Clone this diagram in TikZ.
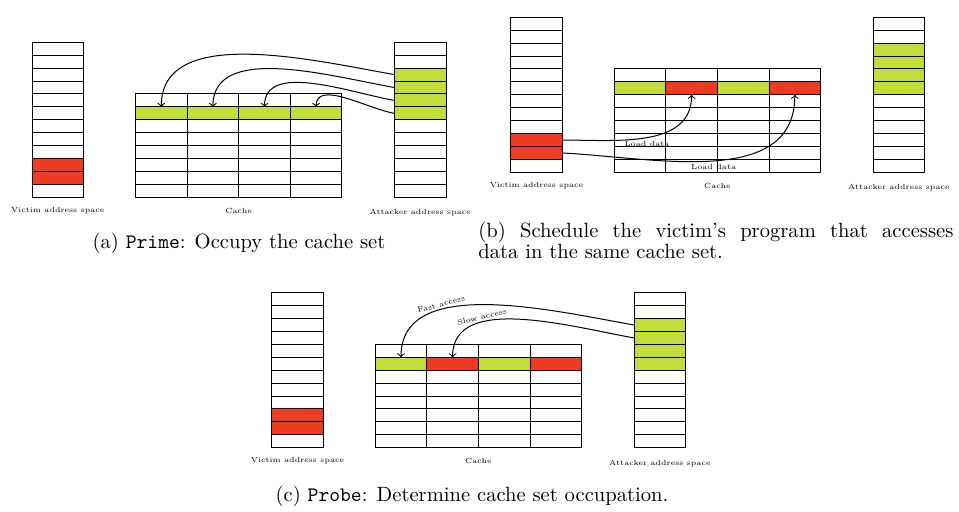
\documentclass[tikz,border=0pt]{standalone}
\usepackage{tikz}
\usetikzlibrary{positioning}
\usetikzlibrary{calc}
\usetikzlibrary{arrows}
\definecolor{green}{RGB}{192,221,58}
\definecolor{red}{RGB}{238,60,35}

\tikzset{
  cell/.style={draw, fill=white, line width=0.5pt, inner sep=0pt, outer sep=0pt,
               minimum width=25.8pt, minimum height=6.46pt},
  lbl/.style={font=\fontsize{3.7}{4.5}\selectfont, inner sep=0pt},
  captxt/.style={font=\fontsize{10.3}{9.7}\selectfont, inner sep=0pt},
  link/.style={->, line width=0.5pt},
}

\begin{document}
\begin{tikzpicture}[x=0.5pt, y=0.5pt]
\useasboundingbox (0,0) rectangle (959,-511);

\def\rh{12.92}  % row height
\def\cw{51.6}   % column width
\def\cx{103.5}  % left edge of the cache
\def\ax{362.4}  % left edge of the attacker space

%====================================================
% (a) PRIME
%====================================================
\begin{scope}[shift={(32,-42.3)}]
  % Victim address space
  \foreach \i in {1,...,9,12}
    \node[cell] (va\i) at (\cw/2,{-(\i-0.5)*\rh}) {};
  \foreach \i in {10,11}
    \node[cell, fill=red] (va\i) at (\cw/2,{-(\i-0.5)*\rh}) {};

  % Cache
  \foreach \r in {1,3,4,5,6,7,8}
    \foreach \c in {1,...,4}
      \node[cell] (ca-\r-\c) at ({\cx+(\c-0.5)*\cw},{-(\r+3.5)*\rh}) {};
  \foreach \c in {1,...,4}
    \node[cell, fill=green] (ca-2-\c) at ({\cx+(\c-0.5)*\cw},{-5.5*\rh}) {};

  % Attacker address space
  \foreach \i in {1,2,7,8,9,10,11,12}
    \node[cell] (ta\i) at ({\ax+\cw/2},{-(\i-0.5)*\rh}) {};
  \foreach \i in {3,...,6}
    \node[cell, fill=green] (ta\i) at ({\ax+\cw/2},{-(\i-0.5)*\rh}) {};

  \node[lbl, below=4.6pt] (lva) at (va12.south) {Victim address space};
  \node[lbl, below=5.3pt] (lca) at (ca-8-2.south east) {Cache};
  \node[lbl, below=5.8pt] (lta) at (ta12.south) {Attacker address space};

  % Prime the set
  \foreach \i/\c in {3/1,4/2,5/3,6/4}
    \draw[link] (ta\i.west) to[out=170,in=90,looseness=0.9] (ca-2-\c.north);
\end{scope}

\node[captxt, anchor=base] (capa) at (239,-248) {(a) \texttt{Prime}: Occupy the cache set};

%====================================================
% (b) VICTIM RUNS
%====================================================
\begin{scope}[shift={(510.7,-17.3)}]
  % Victim address space
  \foreach \i in {1,...,9,12}
    \node[cell] (vb\i) at (\cw/2,{-(\i-0.5)*\rh}) {};
  \foreach \i in {10,11}
    \node[cell, fill=red] (vb\i) at (\cw/2,{-(\i-0.5)*\rh}) {};

  % Cache
  \foreach \r in {1,3,4,5,6,7,8}
    \foreach \c in {1,...,4}
      \node[cell] (cb-\r-\c) at ({\cx+(\c-0.5)*\cw},{-(\r+3.5)*\rh}) {};
  \foreach \c/\f in {1/green,2/red,3/green,4/red}
    \node[cell, fill=\f] (cb-2-\c) at ({\cx+(\c-0.5)*\cw},{-5.5*\rh}) {};

  % Attacker address space
  \foreach \i in {1,2,7,8,9,10,11,12}
    \node[cell] (tb\i) at ({\ax+\cw/2},{-(\i-0.5)*\rh}) {};
  \foreach \i in {3,...,6}
    \node[cell, fill=green] (tb\i) at ({\ax+\cw/2},{-(\i-0.5)*\rh}) {};

  \node[lbl, below=4.6pt] (lvb) at (vb12.south) {Victim address space};
  \node[lbl, below=5.3pt] (lcb) at (cb-8-2.south east) {Cache};
  \node[lbl, below=5.8pt] (ltb) at (tb12.south) {Attacker address space};

  % Victim loads its data
  \draw[link] (vb10.east) to[out=0,in=-90]
      node[lbl, pos=0.5, below=1.5pt] (ldb1) {Load data} (cb-2-2.south);
  \draw[link] (vb11.east) to[out=-3,in=-90]
      node[lbl, pos=0.5, below=1.5pt] (ldb2) {Load data} (cb-2-4.south);
\end{scope}

\node[captxt, anchor=north west, text width=237.5pt, align=justify] (capb) at (478,-221.5)
  {(b) Schedule the victim’s program that accesses\linebreak data in the same cache set.};

%====================================================
% (c) PROBE
%====================================================
\begin{scope}[shift={(271.7,-292.7)}]
  % Victim address space
  \foreach \i in {1,...,9,12}
    \node[cell] (vc\i) at (\cw/2,{-(\i-0.5)*\rh}) {};
  \foreach \i in {10,11}
    \node[cell, fill=red] (vc\i) at (\cw/2,{-(\i-0.5)*\rh}) {};

  % Cache
  \foreach \r in {1,3,4,5,6,7,8}
    \foreach \c in {1,...,4}
      \node[cell] (cc-\r-\c) at ({\cx+(\c-0.5)*\cw},{-(\r+3.5)*\rh}) {};
  \foreach \c/\f in {1/green,2/red,3/green,4/red}
    \node[cell, fill=\f] (cc-2-\c) at ({\cx+(\c-0.5)*\cw},{-5.5*\rh}) {};

  % Attacker address space
  \foreach \i in {1,2,7,8,9,10,11,12}
    \node[cell] (tc\i) at ({\ax+\cw/2},{-(\i-0.5)*\rh}) {};
  \foreach \i in {3,...,6}
    \node[cell, fill=green] (tc\i) at ({\ax+\cw/2},{-(\i-0.5)*\rh}) {};

  \node[lbl, below=4.6pt] (lvc) at (vc12.south) {Victim address space};
  \node[lbl, below=5.3pt] (lcc) at (cc-8-2.south east) {Cache};
  \node[lbl, below=5.8pt] (ltc) at (tc12.south) {Attacker address space};

  % Probe the set
  \draw[link] (tc3.west) to[out=170,in=90,looseness=0.9]
      node[lbl, pos=0.67, sloped, above=1pt] (fast) {Fast access} (cc-2-1.north);
  \draw[link] (tc4.west) to[out=170,in=90,looseness=0.9]
      node[lbl, pos=0.68, sloped, above=1pt] (slow) {Slow access} (cc-2-2.north);
\end{scope}

\node[captxt, anchor=base] (capc) at (472,-501.7) {(c) \texttt{Probe}: Determine cache set occupation.};

\end{tikzpicture}
\end{document}
